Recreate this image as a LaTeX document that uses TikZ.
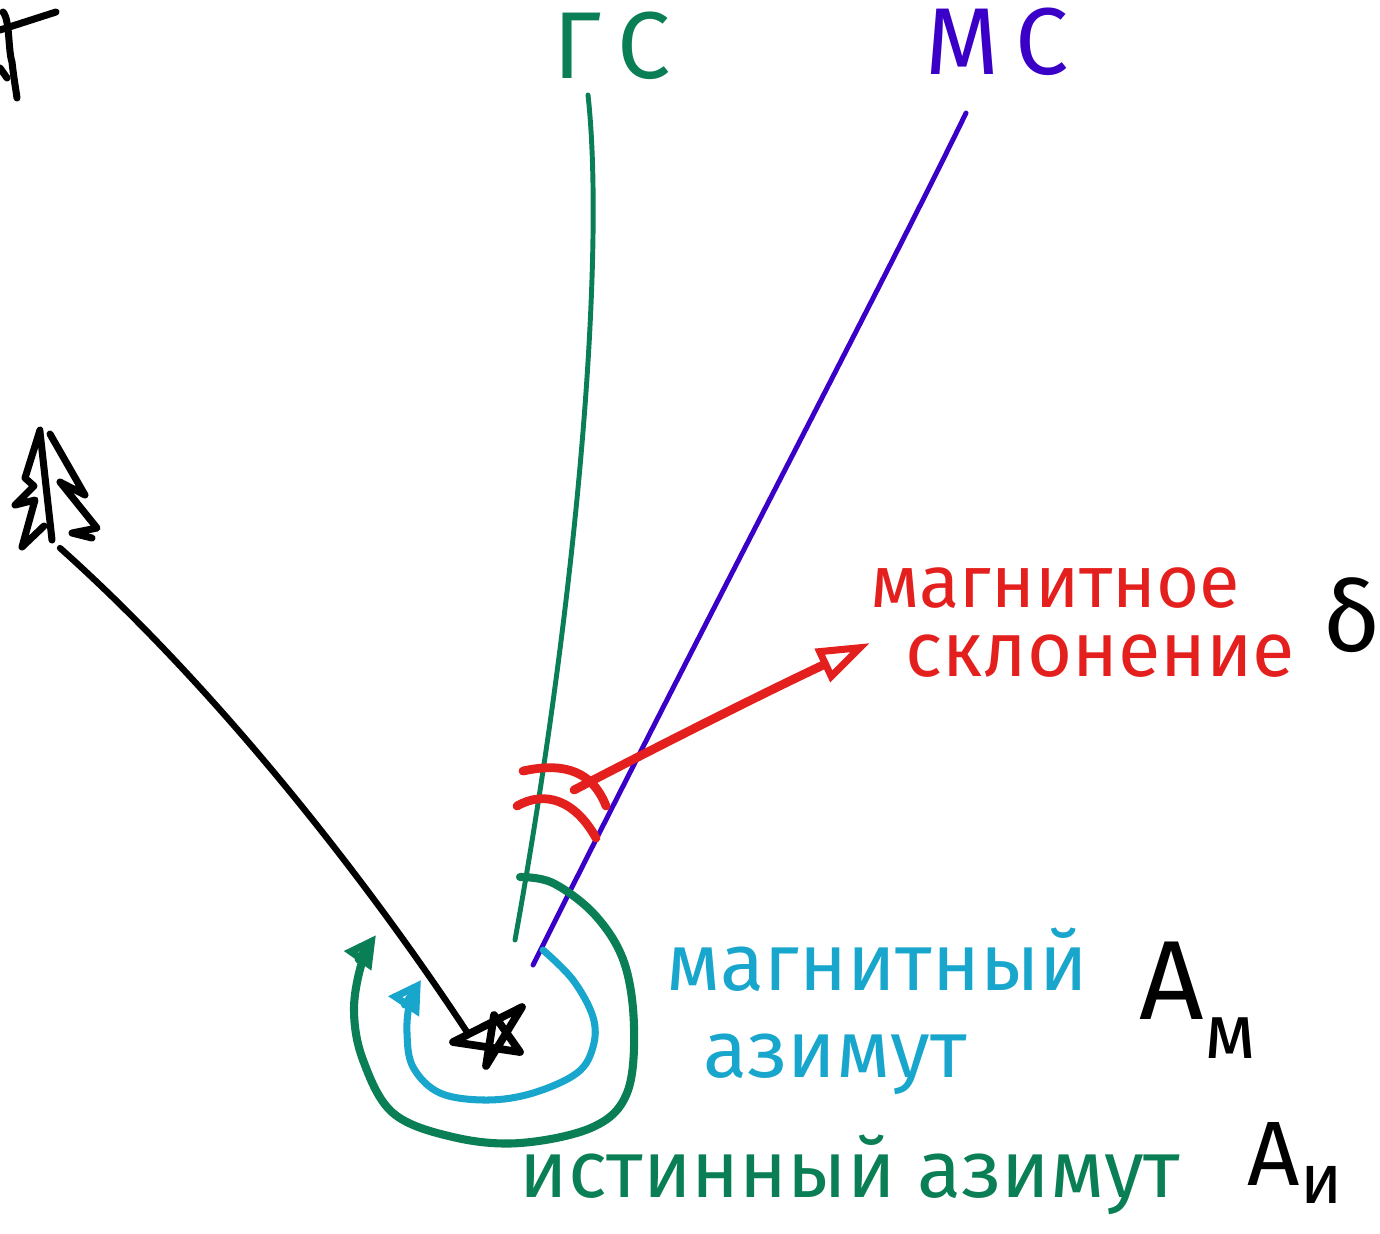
\documentclass[tikz,border=0pt]{standalone}
\usepackage{fontspec}
\setmainfont{Fira Sans}
\usetikzlibrary{arrows.meta}
\definecolor{gsgreen}{RGB}{10,126,84}
\definecolor{mspurple}{RGB}{58,0,200}
\definecolor{declred}{RGB}{228,32,30}
\definecolor{azcyan}{RGB}{24,166,204}
\tikzset{
  gsline/.style={draw=gsgreen, line width=1.4pt},
  msline/.style={draw=mspurple, line width=1.4pt},
  redstroke/.style={draw=declred, line width=2.5pt},
  blackstroke/.style={draw=black, line width=1.8pt},
  greenarc/.style={draw=gsgreen, line width=2.3pt},
  cyanarc/.style={draw=azcyan, line width=2pt},
  lbl/.style={inner sep=0pt, anchor=center},
}
\begin{document}
\begin{tikzpicture}[x=0.01cm, y=-0.01cm, line cap=round, line join=round]
\useasboundingbox (0,0) rectangle (1380,1233);

% named points
\coordinate (gsTop) at (588,95);
\coordinate (gsBot) at (515,940);
\coordinate (msTop) at (966,113);
\coordinate (msBot) at (533,965);
\coordinate (star) at (488,1038);
\coordinate (starEdge) at (467,1032);
\coordinate (treeBase) at (60,548);
\coordinate (declTail) at (574,790);
\coordinate (declTip) at (870,643);

% labels
\node[lbl, text=gsgreen, font=\fontsize{27}{30}\selectfont] (gs) at (612,46) {Г\,С};
\node[lbl, text=mspurple, font=\fontsize{27}{30}\selectfont] (ms) at (997,42) {М\,С};
\node[lbl, text=declred, font=\fontsize{21}{24}\selectfont] (magn) at (1055,588) {магнитное};
\node[lbl, text=declred, font=\fontsize{22}{24}\selectfont] (skl) at (1100,656) {склонение};
\node[lbl, text=black, font=\fontsize{28}{30}\selectfont] (delta) at (1352,615) {δ};
\node[lbl, text=azcyan, font=\fontsize{23}{26}\selectfont] (magaz1) at (877,960) {магнитный};
\node[lbl, text=azcyan, font=\fontsize{23}{26}\selectfont] (magaz2) at (835,1064) {азимут};
\node[lbl, text=gsgreen, font=\fontsize{23}{26}\selectfont] (trueaz) at (850,1175) {истинный азимут};
\node[lbl, text=black, font=\fontsize{32}{34}\selectfont] (Am) at (1198,1000) {А\raisebox{-0.35em}{\fontsize{22}{24}\selectfont м}};
\node[lbl, text=black, font=\fontsize{26}{28}\selectfont] (Ai) at (1295,1163) {А\raisebox{-0.2em}{\fontsize{20}{22}\selectfont и}};

% true meridian (GS) and magnetic meridian (MS)
\draw[gsline] (gsTop) .. controls (605,250) and (580,580) .. (gsBot);
\draw[msline] (msTop) .. controls (880,290) and (700,630) .. (msBot);

% declination arcs
\draw[redstroke] (523,771) .. controls (555,764) and (590,765) .. (606,806);
\draw[redstroke] (517,806) .. controls (545,790) and (575,800) .. (596,838);
\draw[redstroke, -{Triangle[open, length=15pt, width=10pt, line width=2pt]}]
  (declTail) .. controls (670,740) and (770,690) .. (declTip);

% true azimuth arc (green)
\draw[greenarc, -{Triangle[open, length=9pt, width=9pt, line width=2pt]}]
  plot[smooth, tension=0.6] coordinates {(520,877) (553,883) (595,915) (624,962) (634,1027) (627,1093) (593,1127) (520,1143) (453,1137) (393,1113) (363,1060) (354,1010) (362,962) (376,935)};

% magnetic azimuth arc (cyan)
\draw[cyanarc, -{Triangle[open, length=9pt, width=10pt, line width=2pt]}]
  plot[smooth, tension=0.6] coordinates {(543,950) (573,980) (593,1017) (593,1047) (577,1073) (533,1093) (487,1100) (440,1093) (413,1067) (407,1033) (410,1002) (421,980)};

% direction to the landmark (black)
\draw[blackstroke] (starEdge) .. controls (380,900) and (230,700) .. (treeBase);

% star (observer point)
\draw[blackstroke, line width=2.2pt] (453,1042) -- (522,1007) -- (486,1066) -- (494,1015) -- (520,1052) -- cycle;

% tree (landmark)
\draw[blackstroke, line width=2pt] (40,430) -- (25,478) -- (34,486) -- (15,505) -- (35,500) -- (22,547) -- (44,526);
\draw[blackstroke, line width=2pt] (40,432) -- (52,540);
\draw[blackstroke, line width=2pt] (50,434) -- (85,495) -- (60,482) -- (97,528) -- (72,533) -- (92,538);

% partial symbol at top left
\draw[blackstroke, line width=2pt] (0,30) -- (56,12);
\draw[blackstroke, line width=2pt] (3,12) .. controls (10,20) and (8,50) .. (12,62) .. controls (14,80) and (16,90) .. (17,98);
\draw[blackstroke, line width=2pt] (0,68) -- (7,78);
\end{tikzpicture}
\end{document}
